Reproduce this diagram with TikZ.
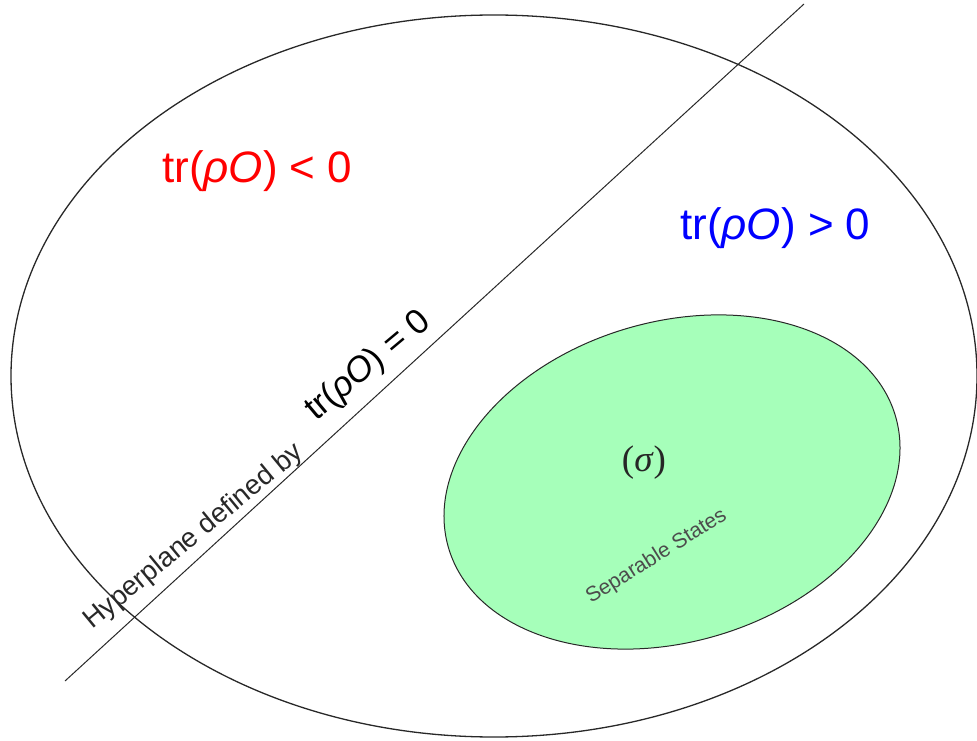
\documentclass[tikz,border=0pt]{standalone}
\usepackage{fontspec}
\setmainfont{Liberation Sans}
\newfontfamily\sigfont{Liberation Serif}
\definecolor{sepgreen}{RGB}{166,255,186}
\definecolor{linegray}{RGB}{40,40,40}
\tikzset{
  lbl/.style={inner sep=0pt, anchor=base west},
  outline/.style={draw=linegray, line width=1.3pt},
}
\newcommand{\tsz}[1]{\fontsize{#1}{#1}\selectfont}
\begin{document}
\begin{tikzpicture}[x=1pt,y=1pt]
\useasboundingbox (0,0) rectangle (977,740);
% outer state space
\draw[outline] (494,364) ellipse [x radius=483, y radius=361];
% separable states
\draw[draw=linegray, line width=1pt, fill=sepgreen, rotate around={16.5:(672,258)}]
  (672,258) ellipse [x radius=233, y radius=160];
% hyperplane
\coordinate (hA) at (65,59);
\coordinate (hB) at (804,736);
\draw[draw=linegray, line width=1pt] (hA) -- (hB);
% labels
\node[lbl, text=red] (neg) at (162,557) {\tsz{44}tr(\textit{ρO}) < 0};
\node[lbl, text=blue] (pos) at (680,500) {\tsz{44}tr(\textit{ρO}) > 0};
\node[lbl, rotate=39.5, text=linegray] (hyp) at (92,110) {\tsz{27.5}Hyperplane defined by};
\node[lbl, rotate=40, text=black] (zero) at (316,318) {\tsz{35}tr(\textit{ρO}) = 0};
\node[inner sep=0pt, text=black!85] (sig) at (644,277) {\tsz{37}\sigfont(\textit{σ})};
\node[lbl, rotate=32, text=black!70] (sep) at (591,136) {\tsz{21}Separable States};
\end{tikzpicture}
\end{document}
